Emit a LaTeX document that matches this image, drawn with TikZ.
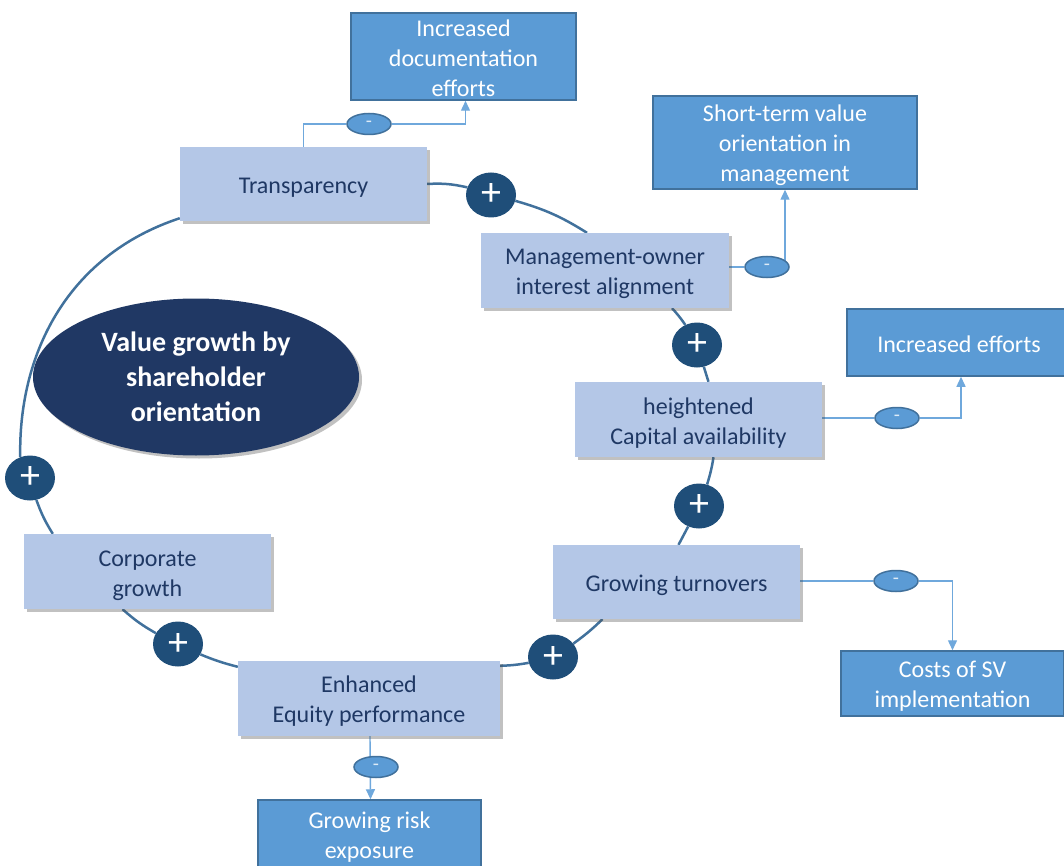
\documentclass[tikz,border=0pt]{standalone}
\usepackage{fontspec}
\setmainfont{Carlito}
\usetikzlibrary{shapes.geometric,shadows,arrows.meta}
\definecolor{boxfill}{HTML}{B4C7E7}
\definecolor{boxtext}{HTML}{1F3864}
\definecolor{effectfill}{HTML}{5B9BD5}
\definecolor{effectline}{HTML}{41719C}
\definecolor{corefill}{HTML}{203864}
\definecolor{plusfill}{HTML}{1F4E79}
\definecolor{ringline}{HTML}{41719C}
\definecolor{linkline}{HTML}{6FA8DC}
\definecolor{minustext}{HTML}{DEEBF7}
\pgfdeclarelayer{background}
\pgfsetlayers{background,main}
\tikzset{
  factor/.style={rectangle, fill=boxfill, text=boxtext, align=center, inner sep=0pt,
    font=\fontsize{24}{30}\selectfont,
    execute at begin node={\rule{0pt}{23pt}},
    drop shadow={shadow xshift=3pt, shadow yshift=-3pt, opacity=0.35, fill=black!70}},
  effect/.style={rectangle, fill=effectfill, draw=effectline, line width=1.5pt,
    text=white, align=center, inner sep=0pt, font=\fontsize{24}{30}\selectfont,
    execute at begin node={\rule{0pt}{20pt}}},
  textlift/.style={text height=#1},
  core/.style={ellipse, fill=corefill, text=white, align=center, inner sep=0pt,
    minimum width=326pt, minimum height=157pt,
    font=\bfseries\fontsize{28}{35}\selectfont,
    drop shadow={shadow xshift=3pt, shadow yshift=-3pt, opacity=0.35, fill=black!70}},
  plusmark/.style={ellipse, fill=plusfill, text=white, inner sep=0pt,
    minimum width=50pt, minimum height=45pt, font=\fontsize{40}{40}\selectfont},
  minusmark/.style={ellipse, fill=effectfill, draw=effectline, line width=1.5pt,
    text=minustext, inner sep=0pt, minimum width=44pt, minimum height=21pt,
    font=\fontsize{20}{20}\selectfont},
  ring/.style={draw=ringline, line width=2.5pt},
  link/.style={draw=linkline, line width=1.4pt},
  arr/.style={link, -{Triangle[width=9pt,length=10pt]}},
}
\begin{document}
\begin{tikzpicture}[x=1pt,y=-1pt]
\useasboundingbox (0,0) rectangle (1064,866);

% central statement
\node[core] (core) at (196,377) {Value growth by\\shareholder\\orientation};

% factors of the cycle
\node[factor, minimum width=247pt, minimum height=74pt] (trans)   at (303.5,184)   {Transparency};
\node[factor, minimum width=248pt, minimum height=75pt, textlift=51.5pt] (mgmt) at (605,270.5) {Management-owner\\interest alignment};
\node[factor, minimum width=247pt, minimum height=75pt, textlift=54pt] (capital) at (698.5,419.5) {heightened\\Capital availability};
\node[factor, minimum width=247pt, minimum height=74pt] (turn)    at (676.5,582)   {Growing turnovers};
\node[factor, minimum width=262pt, minimum height=75pt, textlift=52pt] (equity) at (369,698.5) {Enhanced\\Equity performance};
\node[factor, minimum width=247pt, minimum height=75pt, textlift=54pt] (corp) at (147.5,571.5) {Corporate\\growth};

% side effects
\node[effect, minimum width=225pt, minimum height=87pt, textlift=81pt] (doc) at (463.5,56.5) {Increased\\documentation\\efforts};
\node[effect, minimum width=264pt, minimum height=93pt, textlift=83pt] (short) at (785,142.5) {Short-term value\\orientation in\\management};
\node[effect, minimum width=224pt, minimum height=67pt] (effort) at (959,342.5) {Increased efforts};
\node[effect, minimum width=223pt, minimum height=65pt, textlift=51pt] (costs) at (952.5,683.5) {Costs of SV\\implementation};
\node[effect, minimum width=223pt, minimum height=70pt, textlift=51pt] (risk) at (369.5,835) {Growing risk\\exposure};

% positive links
\node[plusmark] (p1) at (491,195) {+};
\node[plusmark] (p2) at (697,345) {+};
\node[plusmark] (p3) at (699,506) {+};
\node[plusmark] (p4) at (553,657) {+};
\node[plusmark] (p5) at (178,644) {+};
\node[plusmark] (p6) at (30,478)  {+};

% negative links
\node[minusmark] (m1) at (369,124) {-};
\node[minusmark] (m2) at (767,267) {-};
\node[minusmark] (m3) at (897,418) {-};
\node[minusmark] (m4) at (896,581) {-};
\node[minusmark] (m5) at (376,767) {-};

\begin{pgfonlayer}{background}
% the reinforcing cycle
\draw[ring] (trans.east) to[bend left=8] (p1);
\draw[ring] (p1) to[bend left=8] ([xshift=-18pt]mgmt.north);
\draw[ring] ([xshift=67pt]mgmt.south) to[bend left=4] (p2);
\draw[ring] (p2) to ([xshift=10pt]capital.north);
\draw[ring] ([xshift=15pt]capital.south) to[bend left=4] (p3);
\draw[ring] (p3) to ([xshift=2pt]turn.north);
\draw[ring] ([xshift=-74pt]turn.south) to[bend left=4] (p4);
\draw[ring] (p4) to[bend left=4] ([yshift=-5pt]equity.north east);
\draw[ring] ([yshift=-6pt]equity.north west) to[bend left=4] (p5);
\draw[ring] (p5) to[bend left=6] ([xshift=-25pt]corp.south);
\draw[ring] ([xshift=29pt]corp.north west) to[bend left=6] (p6);
\draw[ring] (p6.115) .. controls +(-2,-100) and +(-115,38) .. ([yshift=3pt]trans.south west);

% side effects of each factor
\draw[link] (trans.north) |- (m1);
\draw[arr] (m1) -| ([xshift=2pt]doc.south);
\draw[link] (m2.west -| mgmt.east) -- (m2);
\draw[arr] (m2.east -| short.south) -- (short.south);
\draw[link] (m3.west -| capital.east) -- (m3);
\draw[arr] (m3) -| ([xshift=2pt]effort.south);
\draw[link] (m4.west -| turn.east) -- (m4);
\draw[arr] (m4) -| (costs.north);
\draw[arr] ([xshift=1pt]equity.south) -- ([xshift=1pt]risk.north);
\end{pgfonlayer}
\end{tikzpicture}
\end{document}
